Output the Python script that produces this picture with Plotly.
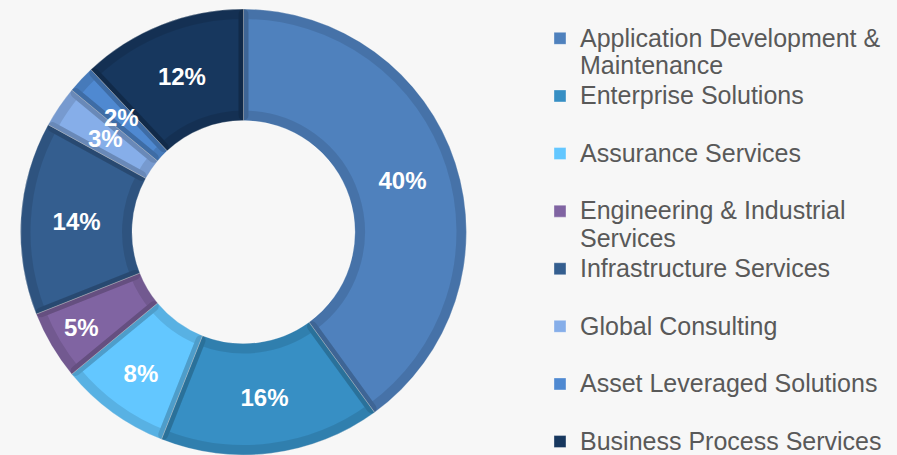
import math
import plotly.graph_objects as go

# segments, clockwise from 12 o'clock
labels = [
    "Application Development &<br>Maintenance",
    "Enterprise Solutions",
    "Assurance Services",
    "Engineering & Industrial<br>Services",
    "Infrastructure Services",
    "Global Consulting",
    "Asset Leveraged Solutions",
    "Business Process Services",
]
shares = [40, 16, 8, 5, 14, 3, 2, 12]
face_colors = ["#4f81bd", "#378fc4", "#63c7ff", "#8064a2",
               "#345e8f", "#86aee9", "#4f89d1", "#17375e"]

BG = "#f7f7f7"
FONT = "Liberation Sans, Arial, sans-serif"
W, H = 897, 455


def legend_text(lbl, last):
    # each entry gets two lines so the legend rows are spaced like the original
    lines = lbl.split("<br>")
    out = "<br>".join('<span style="font-size:25px">%s</span>' % s for s in lines)
    if len(lines) == 1 and not last:
        out += "<br> "
    return out


legend_labels = [legend_text(l, i == len(labels) - 1) for i, l in enumerate(labels)]

# donut placement (paper coords)
x0, x1 = 0.0223, 0.5206
y0, y1 = 0.0, 0.98
bevel = 10  # px
R = min((x1 - x0) * W, (y1 - y0) * H) / 2
hole = 0.5
r_in = R * hole
R_b = R - bevel / 2
hole_b = (r_in + bevel / 2) / R_b
dx = (R - R_b) / W
dy = (R - R_b) / H

# thin slices: plotly pushes their text outwards, so they get annotations at mid-ring
small = [s < 4 for s in shares]
slice_text = ["" if sm else "%d%%" % s for s, sm in zip(shares, small)]

fig = go.Figure()

# base donut: slice faces + legend
fig.add_trace(go.Pie(
    labels=legend_labels, values=shares, sort=False, direction="clockwise",
    rotation=0, hole=hole,
    domain=dict(x=[x0, x1], y=[y0, y1]),
    marker=dict(colors=face_colors, line=dict(color="rgba(255,255,255,0.35)", width=1)),
    textinfo="none", hoverinfo="label+percent", showlegend=True,
))

# bevel ring: translucent dark stroke just inside every slice edge, carries the % labels
fig.add_trace(go.Pie(
    labels=legend_labels, values=shares, sort=False, direction="clockwise",
    rotation=0, hole=hole_b,
    domain=dict(x=[x0 + dx, x1 - dx], y=[y0 + dy, y1 - dy]),
    marker=dict(colors=["rgba(0,0,0,0)"] * len(shares),
                line=dict(color="rgba(0,0,0,0.11)", width=bevel)),
    text=slice_text, textinfo="text", textposition="inside",
    insidetextorientation="horizontal",
    textfont=dict(family=FONT, size=24, color="white", weight="bold"),
    hoverinfo="skip", showlegend=False,
))

# labels for the thin slices, at the middle of the ring
cx, cy = (x0 + x1) / 2, (y0 + y1) / 2
r_mid = (R + r_in) / 2
total = sum(shares)
cum = 0
annotations = []
for s, sm in zip(shares, small):
    mid = (cum + s / 2) / total * 2 * math.pi
    cum += s
    if not sm:
        continue
    annotations.append(dict(
        x=cx + r_mid * math.sin(mid) / W, y=cy + r_mid * math.cos(mid) / H,
        xref="paper", yref="paper", xanchor="center", yanchor="middle",
        text="%d%%" % s, showarrow=False,
        font=dict(family=FONT, size=24, color="white", weight="bold"),
    ))

fig.update_layout(
    width=W, height=H,
    paper_bgcolor=BG, plot_bgcolor=BG,
    margin=dict(l=0, r=0, t=0, b=0, autoexpand=False),
    uniformtext=dict(minsize=24, mode="show"),
    annotations=annotations,
    legend=dict(
        x=0.602, y=0.96, xanchor="left", yanchor="top", valign="top",
        font=dict(family=FONT, size=21, color="#595959"),
        bgcolor="rgba(0,0,0,0)", borderwidth=0, tracegroupgap=0,
        itemclick=False, itemdoubleclick=False,
    ),
)

fig.write_html("out.html", config={"displayModeBar": False},
               post_script="document.body.style.margin='0';")
